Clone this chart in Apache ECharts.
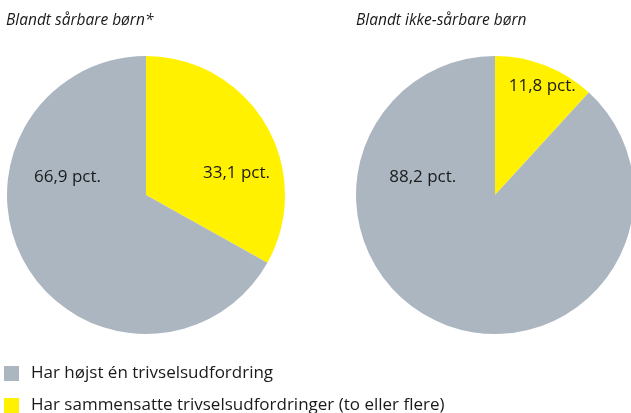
<!DOCTYPE html>
<html><head><meta charset="utf-8">
<script src="https://cdn.jsdelivr.net/npm/echarts@6/dist/echarts.min.js"></script>
<style>html,body{margin:0;padding:0;background:#fff}#c{width:631px;height:413px}</style>
</head><body><div id="c"></div>
<script>
const titles = ['Blandt sårbare børn*', 'Blandt ikke-sårbare børn'];
const categories = ['Har højst én trivselsudfordring', 'Har sammensatte trivselsudfordringer (to eller flere)'];
const vulnerable = [66.9, 33.1];
const nonVulnerable = [88.2, 11.8];
const colors = ['#ABB6C0', '#FFF100'];
const FONT = '"Open Sans", "Noto Sans", sans-serif';

function fmt(v){ return v.toFixed(1).replace('.', ',') + ' pct.'; }

// label offsets (styling only): [sammensatte, højst]
function buildData(vals, offsets){
  // yellow first, starting at 12 o'clock clockwise
  return [
    {name: categories[1], value: vals[1], itemStyle:{color: colors[1]}, label:{offset: offsets[0]}},
    {name: categories[0], value: vals[0], itemStyle:{color: colors[0]}, label:{offset: offsets[1]}}
  ];
}

const chart = echarts.init(document.getElementById('c'), null, {renderer:'canvas'});
const labelStyle = {show:true, position:'inside', formatter: p => fmt(p.value), color:'#1a1a1a', fontSize:17, fontFamily: FONT};
const titleStyle = {fontStyle:'italic', fontWeight:'normal', fontSize:15.5, color:'#1a1a1a', fontFamily: FONT};
const legendBase = {
  orient:'vertical', left:4, padding:0, itemWidth:15, itemHeight:15,
  icon:'rect', selectedMode:false,
  textStyle:{fontSize:17, color:'#1a1a1a', fontFamily: FONT, padding:[0,0,0,7]}
};
chart.setOption({
  animation:false,
  title: [
    {text: titles[0], left:6, top:13, padding:0, textStyle: titleStyle},
    {text: titles[1], left:356, top:13, padding:0, textStyle: titleStyle}
  ],
  legend: [
    Object.assign({}, legendBase, {top:365, data:[categories[0]]}),
    Object.assign({}, legendBase, {top:397, data:[categories[1]]})
  ],
  series: [
    {type:'pie', center:[146,195], radius:139, startAngle:90, clockwise:true, silent:true,
     label: labelStyle, labelLine:{show:false}, emphasis:{disabled:true},
     data: buildData(vulnerable, [[28,15],[-16,-55]])},
    {type:'pie', center:[495,195], radius:139, startAngle:90, clockwise:true, silent:true,
     label: labelStyle, labelLine:{show:false}, emphasis:{disabled:true},
     data: buildData(nonVulnerable, [[21,-41],[-46,-85]])}
  ]
});
</script></body></html>
